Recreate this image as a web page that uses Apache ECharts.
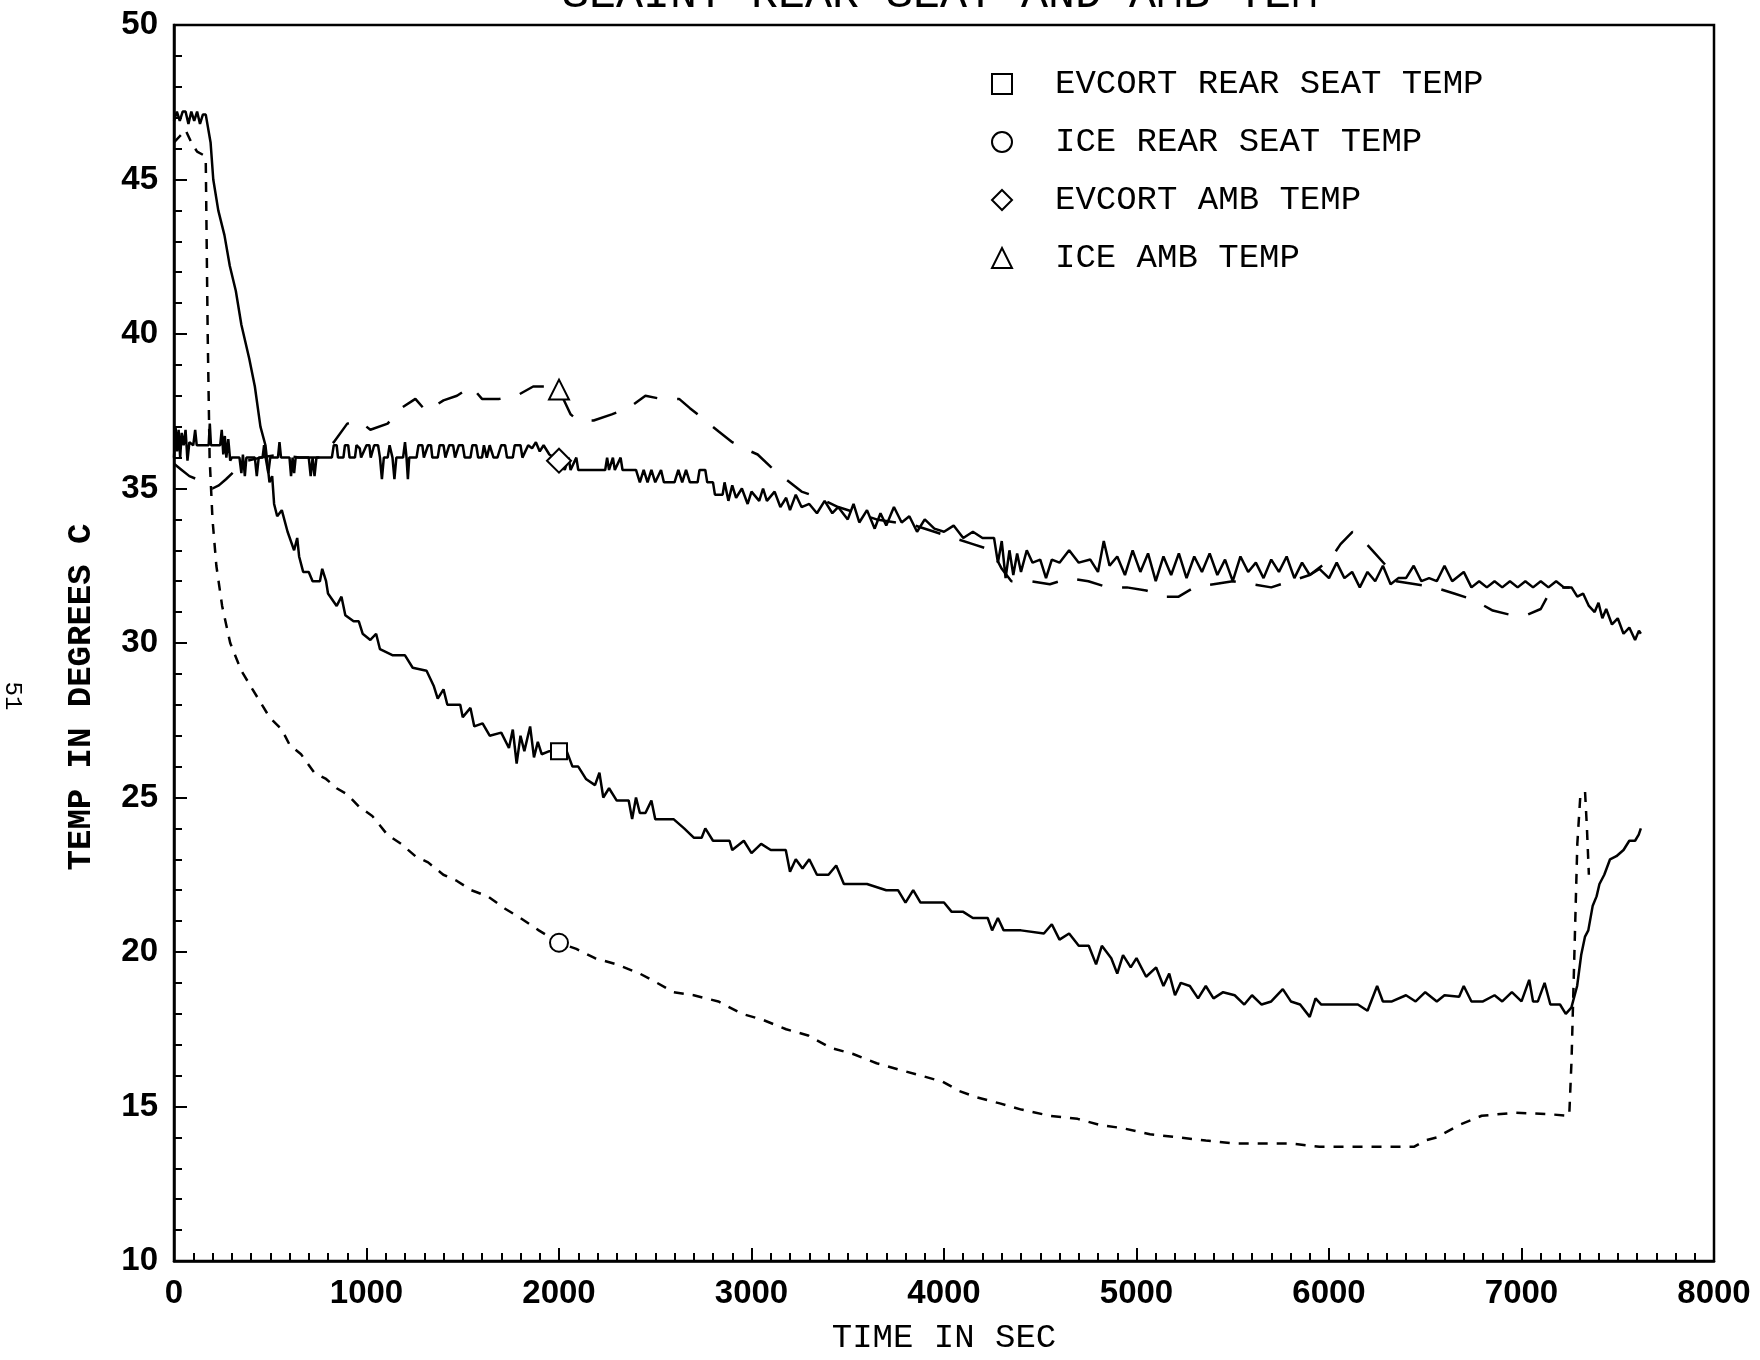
<!DOCTYPE html>
<html>
<head>
<meta charset="utf-8">
<script src="https://cdn.jsdelivr.net/npm/echarts@6/dist/echarts.min.js"></script>
<style>
html,body{margin:0;padding:0;background:#fff;}
#chart{width:1760px;height:1360px;}
</style>
</head>
<body>
<div id="chart"></div>
<script>
const titleText = 'SEAINT REAR SEAT AND AMB TEM';
const seriesNames = ['EVCORT REAR SEAT TEMP', 'ICE REAR SEAT TEMP', 'EVCORT AMB TEMP', 'ICE AMB TEMP'];
const markerTime = 2000;

const evcortRearSeat = [[0,46.9],[15,47.2],[30,46.9],[45,47.2],[60,47.2],[75,46.8],[90,47.2],[105,46.9],[120,47.2],[135,46.8],[150,47.1],[165,47.1],
[190,46.2],[204,45.0],[230,44.0],[262,43.2],[290,42.2],[321,41.4],[350,40.3],[391,39.2],[420,38.3],[449,37.0],[475,36.4],[496,35.2],[510,35.4],[520,34.5],[536,34.1],[560,34.3],[590,33.6],[624,33.0],[640,33.4],[650,32.8],[671,32.3],[700,32.3],[720,32.0],[758,32.0],[770,32.4],[790,32.0],[800,31.6],[845,31.2],[870,31.5],[890,30.9],[933,30.7],[960,30.7],[980,30.3],[1020,30.1],[1050,30.3],[1070,29.8],[1137,29.6],[1200,29.6],[1240,29.2],[1312,29.1],[1350,28.6],[1370,28.2],[1400,28.5],[1420,28.0],[1487,28.0],[1500,27.6],[1540,27.9],[1560,27.3],[1603,27.4],[1640,27.0],[1700,27.1],[1740,26.6],[1760,27.2],[1780,26.1],[1800,27.0],[1820,26.5],[1850,27.3],[1870,26.3],[1890,26.8],[1910,26.4],[1950,26.5],[2000,26.5],[2040,26.5],[2070,26.0],[2100,26.0],[2140,25.6],[2187,25.4],[2210,25.8],[2230,25.0],[2260,25.3],[2300,24.9],[2362,24.9],[2380,24.3],[2400,25.0],[2420,24.5],[2449,24.5],[2480,24.9],[2500,24.3],[2560,24.3],[2595,24.3],[2650,24.0],[2700,23.7],[2741,23.7],[2760,24.0],[2800,23.6],[2886,23.6],[2900,23.3],[2960,23.6],[3000,23.2],[3050,23.5],[3100,23.3],[3178,23.3],[3200,22.6],[3230,23.0],[3265,22.7],[3300,23.0],[3340,22.5],[3400,22.5],[3440,22.8],[3480,22.2],[3528,22.2],[3600,22.2],[3700,22.0],[3761,22.0],[3800,21.6],[3840,22.0],[3878,21.6],[3950,21.6],[4000,21.6],[4040,21.3],[4100,21.3],[4150,21.1],[4227,21.1],[4250,20.7],[4280,21.1],[4310,20.7],[4344,20.7],[4400,20.7],[4519,20.6],[4560,20.9],[4600,20.4],[4650,20.6],[4700,20.2],[4752,20.2],[4790,19.6],[4820,20.2],[4869,19.8],[4900,19.3],[4930,19.9],[4970,19.5],[5000,19.8],[5050,19.2],[5102,19.5],[5140,18.9],[5170,19.3],[5200,18.6],[5230,19.0],[5277,18.9],[5320,18.5],[5360,18.9],[5400,18.5],[5450,18.7],[5510,18.6],[5560,18.3],[5600,18.6],[5650,18.3],[5700,18.4],[5760,18.8],[5802,18.4],[5850,18.3],[5900,17.9],[5930,18.5],[5960,18.3],[6000,18.3],[6093,18.3],[6150,18.3],[6200,18.1],[6250,18.9],[6280,18.4],[6327,18.4],[6400,18.6],[6450,18.4],[6500,18.7],[6560,18.4],[6600,18.6],[6676,18.55],[6700,18.9],[6740,18.4],[6800,18.4],[6860,18.6],[6900,18.4],[6950,18.7],[7000,18.4],[7040,19.1],[7060,18.4],[7085,18.4],[7120,19.0],[7150,18.3],[7200,18.3],[7230,18.0],[7259,18.2],[7289,18.9],[7310,19.9],[7330,20.5],[7347,20.7],[7370,21.5],[7390,21.8],[7405,22.2],[7430,22.5],[7460,23.0],[7493,23.1],[7530,23.3],[7560,23.6],[7590,23.6],[7609,23.8],[7620,24.0]];

const iceRearSeat = [[0,46.2],[30,46.4],[60,46.6],[90,46.2],[120,45.9],[150,45.8],[165,45.6],[175,40.0],[185,36.0],[200,34.0],[220,32.5],[250,31.2],[292,30.0],[350,29.1],[408,28.5],[496,27.6],[560,27.2],[601,26.7],[660,26.4],[729,25.8],[790,25.6],[845,25.3],[900,25.1],[962,24.7],[1030,24.4],[1108,23.8],[1180,23.5],[1254,23.1],[1320,22.9],[1399,22.5],[1470,22.3],[1545,22.0],[1630,21.8],[1720,21.4],[1800,21.1],[1895,20.7],[2000,20.3],[2090,20.1],[2187,19.8],[2300,19.6],[2420,19.3],[2510,19.0],[2595,18.7],[2700,18.6],[2828,18.4],[2950,18.0],[3061,17.8],[3180,17.5],[3294,17.3],[3410,16.9],[3528,16.7],[3650,16.4],[3761,16.2],[3880,16.0],[3994,15.8],[4080,15.5],[4169,15.3],[4290,15.1],[4402,14.9],[4550,14.7],[4694,14.6],[4810,14.4],[4927,14.3],[5070,14.1],[5219,14.0],[5360,13.9],[5510,13.8],[5650,13.8],[5802,13.8],[5950,13.7],[6093,13.7],[6300,13.7],[6443,13.7],[6500,13.9],[6560,14.0],[6676,14.4],[6793,14.7],[6968,14.8],[7143,14.75],[7248,14.7],[7260,16.5],[7275,20.0],[7290,23.5],[7305,25.0],[7330,25.2],[7340,24.0],[7350,22.5]];

const evcortAmb = [[0,36.0],[8,37.0],[16,36.2],[24,36.9],[32,36.0],[40,36.8],[50,36.4],[60,36.9],[70,35.9],[80,36.5],[100,36.4],[110,36.9],[118,36.4],[180,36.4],[186,37.1],[192,36.4],[240,36.4],[248,36.9],[256,36.1],[264,36.7],[272,36.0],[282,36.6],[292,35.9],[300,36.0],
[340,36.0],[350,35.5],[358,36.1],[368,35.4],[376,36.0],[420,36.0],[430,35.4],[440,36.0],[460,36.0],[468,36.4],[476,36.0],[490,35.5],[500,36.0],[540,36.0],[548,36.5],[556,36.0],[600,36.0],[608,35.4],[616,36.0],[624,35.5],[632,36.0],[700,36.0],[710,35.4],[720,36.0],[730,35.4],[740,36.0],[760,36.0],[820,36.0],[830,36.4],[845,36.4],[852,36.0],[880,36.0],[888,36.4],[905,36.4],[912,36.0],[940,36.0],[948,36.4],[965,36.3],[972,36.0],[1000,36.4],[1015,36.4],[1022,36.0],[1040,36.4],[1060,36.4],[1070,36.0],[1080,35.3],[1090,36.0],[1110,36.0],[1120,36.4],[1135,36.0],[1145,35.3],[1155,36.0],[1190,36.0],[1200,36.5],[1208,36.0],[1215,35.3],[1222,36.0],[1260,36.0],[1270,36.4],[1290,36.4],[1298,36.0],[1320,36.4],[1335,36.4],[1342,36.0],[1370,36.0],[1380,36.4],[1400,36.4],[1410,36.0],[1430,36.4],[1450,36.4],[1460,36.0],[1480,36.4],[1500,36.4],[1510,36.0],[1540,36.0],[1550,36.4],[1570,36.4],[1580,36.0],[1600,36.0],[1610,36.4],[1625,36.0],[1640,36.4],[1660,36.0],[1680,36.0],[1700,36.4],[1720,36.4],[1730,36.0],[1760,36.0],[1770,36.4],[1800,36.4],[1810,36.0],[1840,36.4],[1860,36.3],[1880,36.5],[1900,36.2],[1920,36.4],[1950,36.1],[2000,35.9],[2030,35.6],[2050,36.0],[2060,35.6],[2090,36.0],[2100,35.6],[2150,35.6],[2240,35.6],[2250,36.0],[2260,35.6],[2280,36.0],[2290,35.6],[2320,36.0],[2330,35.6],[2400,35.6],[2420,35.2],[2440,35.6],[2460,35.2],[2480,35.6],[2500,35.2],[2530,35.6],[2545,35.2],[2600,35.2],[2620,35.6],[2640,35.2],[2660,35.6],[2680,35.2],[2720,35.2],[2730,35.6],[2760,35.6],[2770,35.2],[2800,35.2],[2810,34.8],[2850,34.8],[2860,35.2],[2880,34.6],[2900,35.1],[2920,34.7],[2950,35.0],[2980,34.5],[3000,34.9],[3040,34.6],[3060,35.0],[3080,34.6],[3120,34.9],[3150,34.4],[3180,34.7],[3200,34.3],[3230,34.8],[3260,34.4],[3300,34.5],[3340,34.2],[3380,34.6],[3420,34.2],[3450,34.4],[3500,34.0],[3530,34.5],[3560,33.9],[3600,34.3],[3640,33.7],[3670,34.2],[3700,33.8],[3740,34.4],[3780,33.9],[3820,34.1],[3860,33.6],[3900,34.0],[3950,33.7],[4000,33.6],[4050,33.8],[4100,33.4],[4150,33.6],[4200,33.4],[4260,33.4],[4280,32.6],[4300,33.3],[4320,32.1],[4340,33.0],[4360,32.2],[4380,32.9],[4400,32.3],[4430,33.0],[4460,32.6],[4500,32.7],[4530,32.1],[4560,32.7],[4600,32.6],[4650,33.0],[4700,32.6],[4760,32.7],[4800,32.3],[4830,33.3],[4860,32.5],[4900,32.8],[4940,32.2],[4980,33.0],[5020,32.3],[5060,32.9],[5100,32.0],[5140,32.8],[5180,32.2],[5220,32.9],[5260,32.1],[5300,32.8],[5340,32.3],[5380,32.9],[5420,32.2],[5460,32.7],[5500,32.0],[5540,32.8],[5580,32.3],[5620,32.6],[5660,32.1],[5700,32.7],[5740,32.3],[5780,32.8],[5820,32.1],[5860,32.6],[5900,32.2],[5950,32.4],[6000,32.1],[6040,32.6],[6080,32.1],[6120,32.3],[6160,31.8],[6200,32.3],[6240,32.0],[6280,32.5],[6320,31.9],[6360,32.1],[6400,32.1],[6440,32.5],[6480,32.0],[6520,32.1],[6560,32.0],[6600,32.5],[6640,32.0],[6700,32.3],[6740,31.8],[6780,32.0],[6820,31.8],[6860,32.0],[6900,31.8],[6940,32.0],[6980,31.8],[7020,32.0],[7060,31.8],[7100,32.0],[7140,31.8],[7180,32.0],[7220,31.8],[7260,31.8],[7290,31.5],[7320,31.6],[7350,31.2],[7380,31.0],[7400,31.3],[7420,30.8],[7440,31.1],[7470,30.6],[7500,30.8],[7530,30.3],[7560,30.5],[7590,30.1],[7610,30.4],[7620,30.3]];

const iceAmb = [[0,35.8],[40,35.6],[80,35.4],[120,35.3],[160,35.1],[200,35.0],[233,35.1],[270,35.3],[320,35.6],[380,35.9],[450,36.0],[550,36.1],[650,36.0],[760,36.0],[830,36.5],[900,37.1],[960,37.2],[1020,36.9],[1110,37.1],[1180,37.6],[1254,37.9],[1310,37.5],[1400,37.85],[1470,38.0],[1545,38.3],[1600,37.9],[1690,37.9],[1780,38.0],[1866,38.3],[1930,38.3],[2000,38.2],[2060,37.4],[2100,37.2],[2180,37.2],[2274,37.4],[2360,37.6],[2449,38.0],[2530,37.9],[2624,37.9],[2680,37.6],[2741,37.3],[2828,36.85],[2900,36.5],[2960,36.3],[3032,36.1],[3100,35.7],[3178,35.3],[3260,34.9],[3350,34.7],[3450,34.4],[3550,34.2],[3650,34.0],[3750,33.9],[3850,33.8],[3950,33.6],[4050,33.4],[4150,33.2],[4250,33.0],[4300,32.4],[4350,32.0],[4450,32.0],[4550,31.9],[4650,32.1],[4750,32.0],[4850,31.8],[4950,31.8],[5050,31.7],[5150,31.5],[5219,31.5],[5300,31.8],[5400,31.9],[5500,32.0],[5600,31.9],[5700,31.8],[5800,32.0],[5900,32.2],[6006,32.7],[6060,33.2],[6122,33.6],[6180,33.3],[6225,33.0],[6297,32.5],[6350,32.0],[6450,31.9],[6550,31.8],[6650,31.6],[6750,31.4],[6851,31.05],[6950,30.9],[7026,30.9],[7100,31.1],[7143,31.6],[7200,31.8],[7250,31.8]];

const markerSymbols = ['rect', 'circle', 'diamond', 'triangle'];
const markerSizes = [16, 18, 24, 20];
const seriesData = [evcortRearSeat, iceRearSeat, evcortAmb, iceAmb];
const lineTypes = ['solid', [10, 9], 'solid', [26, 20]];

const monoFont = '"Liberation Mono", "DejaVu Sans Mono", monospace';
const labelFont = '"Liberation Sans", Arial, sans-serif';

function buildData(arr, i) {
  return arr.map(function (p) {
    if (p[0] === markerTime) {
      return { value: p, symbol: markerSymbols[i], symbolSize: markerSizes[i] };
    }
    return { value: p, symbol: 'none' };
  });
}

const chart = echarts.init(document.getElementById('chart'), null, { renderer: 'canvas' });
const option = {
  animation: false,
  backgroundColor: '#fff',
  title: {
    text: titleText,
    left: 557,
    top: -32,
    textStyle: { fontFamily: monoFont, fontSize: 45, fontWeight: 'normal', color: '#000' }
  },
  grid: { left: 174, right: 46, top: 25, bottom: 96, show: true, borderColor: '#000', borderWidth: 2.5, backgroundColor: 'transparent' },
  legend: {
    orient: 'vertical',
    left: 986,
    top: 62,
    itemWidth: 20,
    itemHeight: 20,
    itemGap: 24,
    selectedMode: false,
    itemStyle: { color: '#fff', borderColor: '#000', borderWidth: 2 },
    textStyle: { fontFamily: monoFont, fontSize: 34, color: '#000', padding: [0, 0, 0, 38] },
    data: seriesNames.map(function (n, i) { return { name: n, icon: markerSymbols[i] }; })
  },
  xAxis: {
    type: 'value', min: 0, max: 8000, interval: 1000,
    name: 'TIME IN SEC', nameLocation: 'middle', nameGap: 60,
    nameTextStyle: { fontFamily: monoFont, fontSize: 34, color: '#000' },
    axisLine: { show: true, lineStyle: { color: '#000', width: 2.5 } },
    axisTick: { show: true, inside: true, length: 13, lineStyle: { color: '#000', width: 2 } },
    minorTick: { show: true, splitNumber: 10, length: 8, lineStyle: { color: '#000', width: 2 } },
    splitLine: { show: false },
    axisLabel: { margin: 16, fontFamily: labelFont, fontWeight: 'bold', fontSize: 33, color: '#000',
      formatter: function (v) { return String(v); } }
  },
  yAxis: {
    type: 'value', min: 10, max: 50, interval: 5,
    name: 'TEMP IN DEGREES C', nameLocation: 'middle', nameGap: 76, nameRotate: 90,
    nameTextStyle: { fontFamily: monoFont, fontSize: 34, fontWeight: 'bold', color: '#000', padding: [0, 108, 0, 0] },
    axisLine: { show: true, lineStyle: { color: '#000', width: 2.5 } },
    axisTick: { show: true, inside: true, length: 13, lineStyle: { color: '#000', width: 2 } },
    minorTick: { show: true, splitNumber: 5, length: 8, lineStyle: { color: '#000', width: 2 } },
    splitLine: { show: false },
    axisLabel: { margin: 16, fontFamily: labelFont, fontWeight: 'bold', fontSize: 33, color: '#000',
      formatter: function (v) { return String(v); } }
  },
  graphic: [{
    type: 'text', x: 12, y: 696, rotation: -Math.PI / 2,
    style: { text: '51', font: '24px "Liberation Mono"', fill: '#000', textAlign: 'center', textVerticalAlign: 'middle' }
  }],
  series: seriesNames.map(function (n, i) {
    return {
      name: n,
      type: 'line',
      data: buildData(seriesData[i], i),
      showSymbol: true,
      showAllSymbol: true,
      symbol: 'none',
      itemStyle: { color: '#fff', borderColor: '#000', borderWidth: 2 },
      lineStyle: { color: '#000', width: 2.5, type: lineTypes[i] },
      z: 2 + i
    };
  })
};
chart.setOption(option);
</script>
</body>
</html>
